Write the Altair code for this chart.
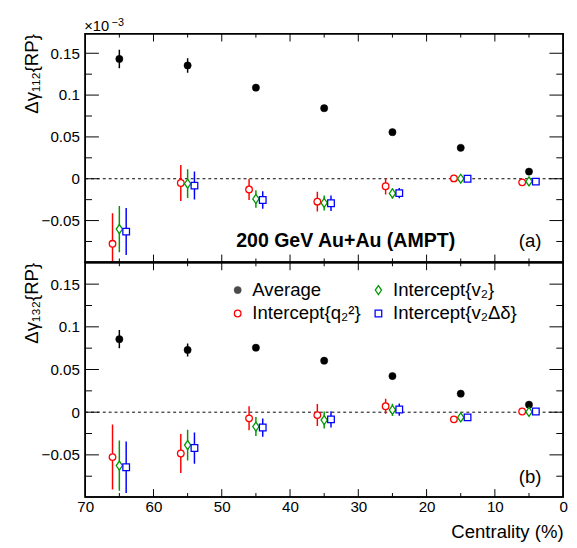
import altair as alt
import pandas as pd

# ---------------- data (values in units of 1e-3) ----------------
cent_avg = [65, 55, 45, 35, 25, 15, 5]
cent_q2 = [66, 56, 46, 36, 26, 16, 6]
cent_v2 = [65, 55, 45, 35, 25, 15, 5]
cent_vd = [64, 54, 44, 34, 24, 14, 4]

# panel (a): Δγ112{RP}
a_avg = [0.1432, 0.1354, 0.1089, 0.0843, 0.0557, 0.0370, 0.0085]
a_avg_err = [0.0110, 0.0086, 0.0030, 0.0020, 0.0020, 0.0020, 0.0020]
a_q2 = [-0.0778, -0.0051, -0.0129, -0.0274, -0.0090, 0.0004, -0.0043]
a_q2_err = [0.0364, 0.0215, 0.0125, 0.0117, 0.0097, 0.0030, 0.0030]
a_v2 = [-0.0602, -0.0059, -0.0242, -0.0289, -0.0176, 0.0000, -0.0032]
a_v2_err = [0.0277, 0.0172, 0.0105, 0.0090, 0.0059, 0.0040, 0.0040]
a_vd = [-0.0632, -0.0082, -0.0254, -0.0293, -0.0172, 0.0000, -0.0035]
a_vd_err = [0.0281, 0.0167, 0.0105, 0.0094, 0.0060, 0.0040, 0.0040]

# panel (b): Δγ132{RP}
b_avg = [0.0855, 0.0729, 0.0755, 0.0603, 0.0423, 0.0217, 0.0088]
b_avg_err = [0.0107, 0.0076, 0.0030, 0.0020, 0.0020, 0.0020, 0.0020]
b_q2 = [-0.0526, -0.0484, -0.0072, -0.0034, 0.0069, -0.0084, 0.0008]
b_q2_err = [0.0381, 0.0229, 0.0141, 0.0129, 0.0088, 0.0030, 0.0030]
b_v2 = [-0.0626, -0.0385, -0.0168, -0.0092, 0.0027, -0.0061, 0.0003]
b_v2_err = [0.0294, 0.0180, 0.0111, 0.0099, 0.0073, 0.0040, 0.0030]
b_vd = [-0.0645, -0.0420, -0.0180, -0.0084, 0.0031, -0.0061, 0.0008]
b_vd_err = [0.0301, 0.0183, 0.0107, 0.0095, 0.0072, 0.0030, 0.0030]

series_names = ["Average", "Intercept{q₂²}", "Intercept{v₂}", "Intercept{v₂Δδ}"]
series_colors = ["#000000", "#ff0000", "#009900", "#0000ff"]

y_major = [-0.05, 0.0, 0.05, 0.1, 0.15]
y_minor = [-0.075, -0.025, 0.025, 0.075, 0.125]
x_labels = [0, 10, 20, 30, 40, 50, 60, 70]
x_major_inner = [10, 20, 30, 40, 50, 60]
x_minor = [5, 15, 25, 35, 45, 55, 65]

FONT = "Liberation Sans"
W = 489
DIAMOND = "M0,-1.15L0.8,0L0,1.15L-0.8,0Z"


def panel(vals, ymin, ymax, height, ytitle, tag, tag_y, bottom):
    yscale = alt.Scale(domain=[ymin, ymax], nice=False, zero=False)
    xscale = alt.Scale(domain=[0, 70], reverse=True, nice=False)
    yaxis = alt.Axis(values=y_major, format=".2~f", ticks=False, tickSize=0, domain=False,
                     grid=False, labelFontSize=15.5, labelFont=FONT, labelPadding=6,
                     labelColor="black", title=ytitle, titleFont=FONT, titleFontSize=19,
                     titleFontWeight="normal", titleAngle=270, titleAlign="right",
                     titleBaseline="middle", titleX=-55, titleY=0, titleColor="black")
    if bottom:
        xaxis = alt.Axis(values=x_labels, format="d", ticks=False, tickSize=0, domain=False,
                         grid=False, labelFontSize=15.5, labelFont=FONT, labelPadding=3,
                         labelColor="black", labelFlush=False,
                         title="Centrality (%)", titleFont=FONT, titleFontSize=19,
                         titleFontWeight="normal", titleAlign="right", titleAnchor="end",
                         titleBaseline="alphabetic", titleX=W, titleY=41, titleColor="black")
    else:
        xaxis = None

    def X(f):
        return alt.X(f, type="quantitative", scale=xscale, axis=xaxis)

    def Y(f):
        return alt.Y(f, type="quantitative", scale=yscale, axis=yaxis)

    layers = []
    one = pd.DataFrame({"a": [0]})
    # zero line
    layers.append(alt.Chart(pd.DataFrame({"v": [0.0]})).mark_rule(
        color="black", strokeDash=[3, 3], strokeWidth=1).encode(y=Y("v")))

    # frame ticks (inward)
    ymaj = pd.DataFrame({"t": y_major})
    ymin_df = pd.DataFrame({"t": [t for t in y_minor if ymin < t < ymax]})
    for df, ln in ((ymaj, 14), (ymin_df, 7)):
        layers.append(alt.Chart(df).mark_rule(color="black", strokeWidth=1).encode(
            y=Y("t"), x=alt.value(0), x2=alt.value(ln)))
        layers.append(alt.Chart(df).mark_rule(color="black", strokeWidth=1).encode(
            y=Y("t"), x=alt.value(W), x2=alt.value(W - ln)))
    xmaj = pd.DataFrame({"t": x_major_inner})
    xmin_df = pd.DataFrame({"t": x_minor})
    for df, ln in ((xmaj, 8), (xmin_df, 4)):
        layers.append(alt.Chart(df).mark_rule(color="black", strokeWidth=1).encode(
            x=X("t"), y=alt.value(0), y2=alt.value(ln)))
        layers.append(alt.Chart(df).mark_rule(color="black", strokeWidth=1).encode(
            x=X("t"), y=alt.value(height), y2=alt.value(height - ln)))

    xs = [cent_avg, cent_q2, cent_v2, cent_vd]
    shapes = ["circle", "circle", DIAMOND, "square"]
    sizes = [55, 46, 64, 46]
    for i in range(4):
        v, e = vals[2 * i], vals[2 * i + 1]
        df = pd.DataFrame({"x": xs[i], "y": v,
                           "lo": [max(a - b, ymin) for a, b in zip(v, e)],
                           "hi": [min(a + b, ymax) for a, b in zip(v, e)]})
        layers.append(alt.Chart(df).mark_rule(color=series_colors[i], strokeWidth=1.5,
                                              clip=True).encode(
            x=X("x"), y=Y("lo"), y2="hi"))
        if i == 0:
            pt = alt.Chart(df).mark_point(shape="circle", size=sizes[i], filled=True,
                                          fill="black", stroke="black", strokeWidth=0.5,
                                          opacity=1)
        else:
            pt = alt.Chart(df).mark_point(shape=shapes[i], size=sizes[i], filled=False,
                                          fill="white", fillOpacity=1,
                                          stroke=series_colors[i], strokeWidth=1.3,
                                          opacity=1)
        layers.append(pt.encode(x=X("x"), y=Y("y")))

    # panel tag
    layers.append(alt.Chart(one).mark_text(font=FONT, fontSize=19, align="center",
                                           baseline="middle", color="black").encode(
        x=alt.value(455.3), y=alt.value(tag_y), text=alt.value(tag)))

    if not bottom:
        layers.append(alt.Chart(one).mark_text(font=FONT, fontSize=20, fontWeight="bold",
                                               align="center", baseline="middle",
                                               color="black").encode(
            x=alt.value(266.5), y=alt.value(212), text=alt.value("200 GeV Au+Au (AMPT)")))
        layers.append(alt.Chart(one).mark_text(font=FONT, fontSize=15, align="left",
                                               baseline="alphabetic", color="black").encode(
            x=alt.value(-1), y=alt.value(-3), text=alt.value("×10")))
        layers.append(alt.Chart(one).mark_text(font=FONT, fontSize=11, align="left",
                                               baseline="alphabetic", color="black").encode(
            x=alt.value(27), y=alt.value(-7.5), text=alt.value("−3")))
        # invisible anchor fixing the chart's top-left bound
        layers.append(alt.Chart(one).mark_rule(strokeWidth=1, opacity=0).encode(
            x=alt.value(-77.5), x2=alt.value(-77.5), y=alt.value(-18.5), y2=alt.value(-10)))
    else:
        # legend
        lx = [156, 156, 300, 300]
        ly = [28.3, 52.3, 28.3, 52.3]
        for i in range(4):
            if i == 0:
                m = alt.Chart(one).mark_point(shape="circle", size=sizes[i], filled=True,
                                              fill="black", stroke="black", strokeWidth=0.5)
            else:
                m = alt.Chart(one).mark_point(shape=shapes[i], size=sizes[i], filled=False,
                                              fill="white", fillOpacity=1,
                                              stroke=series_colors[i], strokeWidth=1.3)
            layers.append(m.encode(x=alt.value(lx[i]), y=alt.value(ly[i])))
            layers.append(alt.Chart(one).mark_text(font=FONT, fontSize=19, align="left",
                                                   baseline="middle", color="black").encode(
                x=alt.value(lx[i] + 15), y=alt.value(ly[i]), text=alt.value(series_names[i])))

    # frame
    layers.append(alt.Chart(one).mark_rect(fillOpacity=0, stroke="black",
                                           strokeWidth=1.6).encode(
        x=alt.value(0), x2=alt.value(W), y=alt.value(0), y2=alt.value(height)))

    return alt.layer(*layers).properties(width=W, height=height)


top = panel([a_avg, a_avg_err, a_q2, a_q2_err, a_v2, a_v2_err, a_vd, a_vd_err],
            -0.1, 0.1734, 234, "Δγ₁₁₂{RP}", "(a)", 212, False)
bot = panel([b_avg, b_avg_err, b_q2, b_q2_err, b_v2, b_v2_err, b_vd, b_vd_err],
            -0.0993, 0.1755, 240, "Δγ₁₃₂{RP}", "(b)", 219.6, True)

chart = alt.vconcat(top, bot, spacing=0, bounds="flush").properties(
    padding={"left": 0, "top": 0, "right": 0, "bottom": 2}
).configure(background="white").configure_view(stroke="black", strokeWidth=1.6)

chart.save("out.html", embed_options={"renderer": "svg", "actions": False})
